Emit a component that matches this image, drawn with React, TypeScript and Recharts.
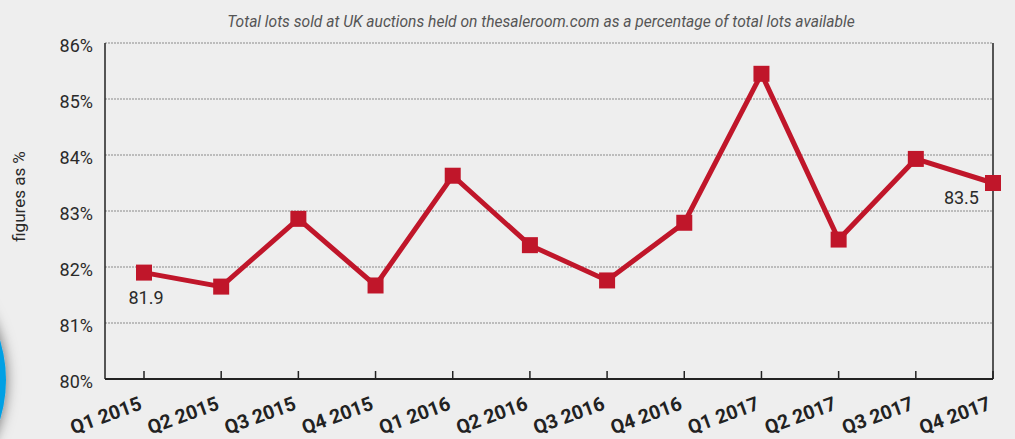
import React from 'react';
import { LineChart, Line, XAxis, YAxis, CartesianGrid, ReferenceLine } from 'recharts';

const quarters = ['Q1 2015', 'Q2 2015', 'Q3 2015', 'Q4 2015', 'Q1 2016', 'Q2 2016', 'Q3 2016', 'Q4 2016', 'Q1 2017', 'Q2 2017', 'Q3 2017', 'Q4 2017'];
const soldPct = [81.9, 81.65, 82.86, 81.67, 83.63, 82.39, 81.76, 82.79, 85.45, 82.49, 83.93, 83.5];
const yTicks = [80, 81, 82, 83, 84, 85, 86];
const labelledIndexes = [0, 11];
const titleText = 'Total lots sold at UK auctions held on thesaleroom.com as a percentage of total lots available';
const yAxisTitle = 'figures as %';

const data = quarters.map((q, i) => ({ quarter: q, value: soldPct[i] }));

const RED = '#c0162a';
const FONT = 'Roboto, "Noto Sans", sans-serif';

const XTick = (props: any) => {
  const { x, y, payload } = props;
  return (
    <g>
      <line x1={x} x2={x} y1={y - 8} y2={y} stroke="#222" strokeWidth={1.5} />
      <text
        x={x - 1}
        y={y + 30}
        textAnchor="end"
        transform={`rotate(-20, ${x - 1}, ${y + 30})`}
        fontFamily={FONT}
        fontWeight="bold"
        fontSize={19.5}
        fill="#222"
      >
        {payload.value}
      </text>
    </g>
  );
};

const YTick = (props: any) => {
  const { x, y, payload } = props;
  return (
    <text x={x} y={y + 9} textAnchor="end" fontFamily={FONT} fontSize={18} fill="#2a2a2a">
      {`${payload.value}%`}
    </text>
  );
};

const SquareDot = (props: any) => {
  const { cx, cy, index } = props;
  return <rect key={`d${index}`} x={cx - 8} y={cy - 8} width={16} height={16} fill={RED} />;
};

const ValueLabel = (props: any) => {
  const { x, y, index, value } = props;
  if (!labelledIndexes.includes(index)) return null;
  if (index === 0) {
    return (
      <text key={`l${index}`} x={x + 2} y={y + 31} textAnchor="middle" fontFamily={FONT} fontSize={18} fill="#2a2a2a">
        {value.toFixed(1)}
      </text>
    );
  }
  return (
    <text key={`l${index}`} x={x - 14} y={y + 21} textAnchor="end" fontFamily={FONT} fontSize={18} fill="#2a2a2a">
      {value.toFixed(1)}
    </text>
  );
};

export default function App() {
  return (
    <div style={{ position: 'absolute', left: 0, top: 0, width: 1015, height: 439, background: '#eeeeee', overflow: 'hidden' }}>
      <svg width={1015} height={439} style={{ position: 'absolute', left: 0, top: 0 }}>
        <defs>
          <filter id="shadow" x="-50%" y="-50%" width="200%" height="200%">
            <feDropShadow dx="0" dy="0" stdDeviation="7" floodColor="#000" floodOpacity="0.55" />
          </filter>
        </defs>
        <circle cx={-130} cy={380} r={136} fill="#00a0e4" filter="url(#shadow)" />
        <text x={541} y={27} textAnchor="middle" fontFamily={FONT} fontStyle="italic" fontSize={15.6} fill="#555">
          {titleText}
        </text>
        <text
          x={0}
          y={0}
          transform="translate(24.5,196.5) rotate(-90)"
          textAnchor="middle"
          fontFamily={FONT}
          fontSize={17}
          fill="#2a2a2a"
        >
          {yAxisTitle}
        </text>
      </svg>
      <div style={{ position: 'absolute', left: 0, top: 0 }}>
        <LineChart width={1015} height={439} data={data} margin={{ top: 43, right: 22, bottom: 0, left: 0 }}>
          <CartesianGrid vertical={false} stroke="#8a8a8a" strokeDasharray="2 1" />
          <XAxis
            dataKey="quarter"
            height={60}
            interval={0}
            padding={{ left: 39, right: 0 }}
            tickLine={false}
            tickSize={0}
            tickMargin={0}
            axisLine={{ stroke: '#222', strokeWidth: 2 }}
            tick={<XTick />}
          />
          <YAxis
            width={105}
            domain={[80, 86]}
            ticks={yTicks}
            interval={0}
            tickLine={false}
            tickSize={0}
            tickMargin={12}
            axisLine={{ stroke: '#222', strokeWidth: 1.5 }}
            tick={<YTick />}
          />
          <ReferenceLine x="Q4 2017" stroke="#555" strokeWidth={2} />
          <Line
            type="linear"
            dataKey="value"
            stroke={RED}
            strokeWidth={5}
            dot={<SquareDot />}
            activeDot={false}
            label={<ValueLabel />}
            isAnimationActive={false}
          />
        </LineChart>
      </div>
    </div>
  );
}
